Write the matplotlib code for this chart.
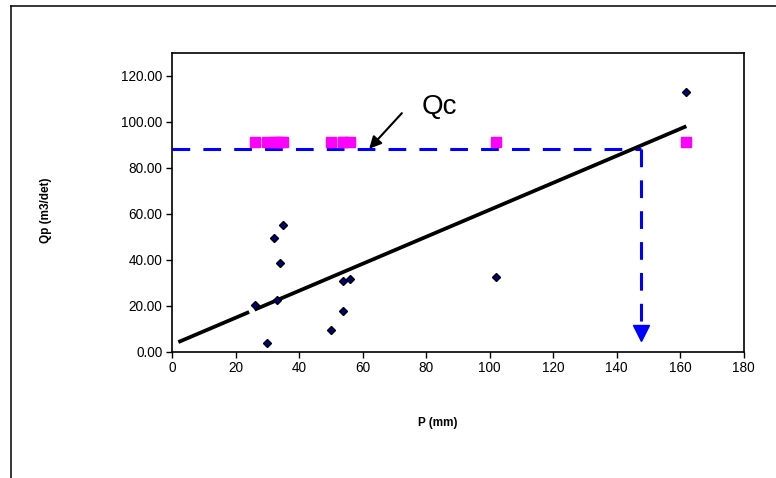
import matplotlib
matplotlib.use("Agg")
import matplotlib.pyplot as plt
import numpy as np
from matplotlib.lines import Line2D

plt.rcParams['font.family'] = ['Liberation Sans', 'DejaVu Sans']

# Observed data (diamonds)
p_obs = [26, 30, 32, 33, 34, 35, 50, 54, 54, 56, 102, 162]
q_obs = [20.1, 3.8, 49.3, 22.3, 38.7, 55.2, 9.3, 17.6, 30.6, 31.7, 32.4, 113.1]

# Qc series (magenta squares)
p_qc = [26, 30, 32, 33, 34, 35, 50, 54, 54, 56, 102, 162]
q_qc = [91, 91, 91, 91, 91, 91, 91, 91, 91, 91, 91, 91]

# Trend line endpoints
trend_x = [2, 162]
trend_y = [4.1, 98.0]

# Qc level and reading
qc_level = 88.0
p_read = 147.7
arrow_bottom = 8.0

fig = plt.figure(figsize=(7.76, 4.78), dpi=100)
ax = fig.add_axes([172/776, 1-351.5/478, (743.5-172)/776, (351.5-52.7)/478])

# outer frame (partial)
fig.add_artist(Line2D([10.5/776, 10.5/776], [0, 1-5.7/478], transform=fig.transFigure, color='black', lw=1.1))
fig.add_artist(Line2D([10.5/776, 1], [1-5.7/478, 1-5.7/478], transform=fig.transFigure, color='black', lw=1.1))

# trend line with small gap
slope = (trend_y[1]-trend_y[0])/(trend_x[1]-trend_x[0])
def ty(x):
    return trend_y[0] + slope*(x-trend_x[0])
gx1, gx2 = 24.3, 26.0
ax.plot([trend_x[0], gx1], [trend_y[0], ty(gx1)], color='black', lw=2.7, solid_capstyle='butt', zorder=3)
ax.plot([gx2, trend_x[1]], [ty(gx2), trend_y[1]], color='black', lw=2.7, solid_capstyle='butt', zorder=3)

# dashed Qc lines
ax.plot([0, p_read], [qc_level, qc_level], color='#0000FF', lw=2.2, dashes=(5.8, 4.3), zorder=2)
ax.plot([p_read, p_read], [qc_level, arrow_bottom], color='#0000FF', lw=2.2, dashes=(5.8, 4.3), zorder=2)
ax.plot([p_read], [arrow_bottom], marker='v', color='#0000FF', markersize=11, zorder=2)

ax.plot(p_qc, q_qc, linestyle='none', marker='s', markersize=7, color='#FF00FF', zorder=4)
ax.plot(p_obs, q_obs, linestyle='none', marker='D', markersize=4.5, markerfacecolor='#000080',
        markeredgecolor='black', markeredgewidth=1, zorder=5)

ax.text(78.5, 106.5, 'Qc', fontsize=20, va='center', ha='left')
ax.annotate('', xy=(62.1, 88.2), xytext=(72.4, 103.7),
            arrowprops=dict(arrowstyle='-|>', color='black', lw=1.5, mutation_scale=18,
                            shrinkA=0, shrinkB=0))

ax.set_xlim(0, 180)
ax.set_ylim(0, 130)
ax.set_xticks(np.arange(0, 181, 20))
ax.set_yticks(np.arange(0, 121, 20))
ax.set_yticklabels([f"{v:.2f}" for v in np.arange(0, 121, 20)])
ax.tick_params(direction='out', length=4, width=1, labelsize=9.8, pad=3)
for s in ax.spines.values():
    s.set_linewidth(1.2)

fig.text(438/776, 1-423/478, 'P (mm)', fontsize=8.5, fontweight='bold', ha='center', va='center')
fig.text(46/776, 1-210/478, 'Qp (m3/det)', fontsize=8.5, fontweight='bold', ha='center', va='center', rotation=90)

fig.savefig('out.png', dpi=100)
